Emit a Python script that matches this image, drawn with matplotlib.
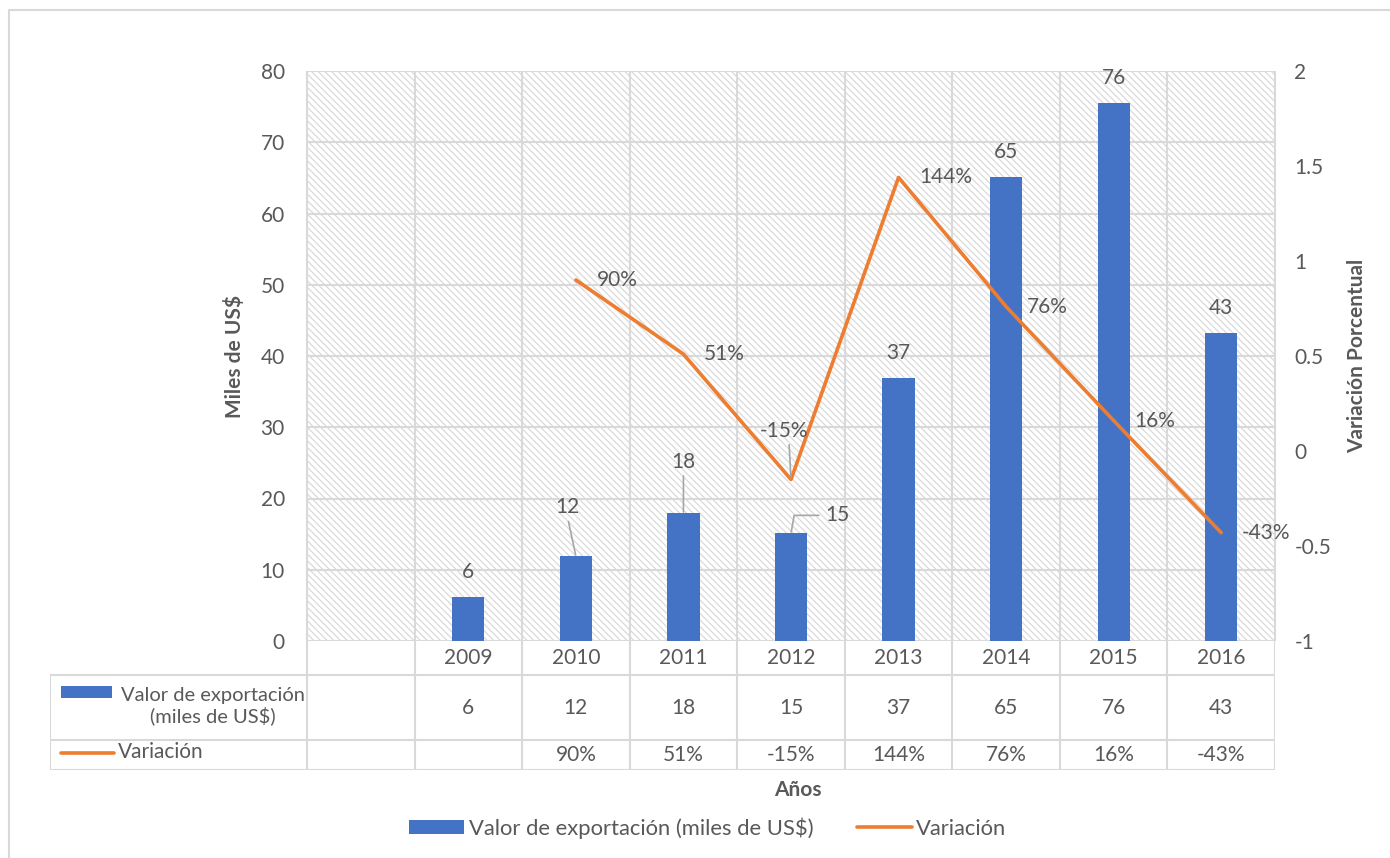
import numpy as np
import matplotlib.pyplot as plt
from matplotlib.patches import Rectangle
from matplotlib.lines import Line2D

plt.rcParams['font.family'] = ['Lato', 'DejaVu Sans']
plt.rcParams['hatch.linewidth'] = 0.9

# data
years = ["", "2009", "2010", "2011", "2012", "2013", "2014", "2015", "2016"]
valor = [np.nan, 6.2, 11.9, 17.9, 15.1, 36.9, 65.1, 75.5, 43.2]
variacion = [np.nan, np.nan, 0.90, 0.51, -0.15, 1.44, 0.76, 0.16, -0.43]
left_ticks = list(range(0, 90, 10))
right_ticks = [-1, -0.5, 0, 0.5, 1, 1.5, 2]

blue = "#4472C4"
orange = "#ED7D31"
grid = "#d9d9d9"
txt = "#595959"
fs = 15

W, H = 1390, 858
def fx(p):
    return p / W
def fy(p):
    return 1 - p / H

fig = plt.figure(figsize=(13.9, 8.58), dpi=100)

# outer frame
fig.add_artist(Line2D([fx(9), fx(9), fx(W)], [fy(H), fy(10), fy(10)],
                      color=grid, lw=1.5, transform=fig.transFigure))

ax = fig.add_axes([fx(307), fy(641), fx(1275) - fx(307), fy(71) - fy(641)])
ax.set_xlim(0, 9)
ax.set_ylim(0, 80)
ax.add_patch(Rectangle((0, 0), 1, 1, transform=ax.transAxes, facecolor="white",
                       edgecolor="#dadada", hatch="\\\\\\\\\\", lw=0, zorder=0))
for s in ax.spines.values():
    s.set_visible(False)
ax.set_axisbelow(True)
ax.set_yticks(left_ticks)
ax.yaxis.grid(True, color=grid, lw=1.5)
ax.set_xticks([])
ax.tick_params(axis="y", length=0, pad=16, labelsize=fs, labelcolor=txt)
ax.vlines(np.arange(len(years) + 1), 0, 80, color=grid, lw=1.5, zorder=1, clip_on=False)

xs = np.arange(len(years)) + 0.5
bars = ax.bar(xs, valor, width=0.3, color=blue, zorder=2,
              label="Valor de exportación (miles de US$)")

# bar labels
special = {"2010": (-6, 28, True), "2011": (0, 30, True), "2012": (25, 13, True)}
for x, v, yr in zip(xs, valor, years):
    if np.isnan(v):
        continue
    dx, dy, lead = special.get(yr, (0, 18, False))
    if yr == "2012":
        ax.annotate(f"{v:.0f}", (x, v), xytext=(dx, dy), textcoords="offset points",
                    ha="left", va="center", fontsize=fs, color=txt,
                    arrowprops=dict(arrowstyle="-", color="#a6a6a6", lw=1.2, shrinkA=3, shrinkB=1,
                                    relpos=(0, 0.5),
                                    connectionstyle="angle,angleA=0,angleB=80,rad=0"))
    elif lead:
        ax.annotate(f"{v:.0f}", (x, v), xytext=(dx, dy), textcoords="offset points",
                    ha="center", va="bottom", fontsize=fs, color=txt,
                    arrowprops=dict(arrowstyle="-", color="#a6a6a6", lw=1.2, shrinkA=1, shrinkB=1,
                                    relpos=(0.5, 0)))
    else:
        ax.annotate(f"{v:.0f}", (x, v), xytext=(dx, dy), textcoords="offset points",
                    ha="center", va="center", fontsize=fs, color=txt)

ax2 = ax.twinx()
ax2.set_ylim(-1, 2)
ax2.set_yticks(right_ticks)
ax2.set_yticklabels([f"{t:g}" for t in right_ticks])
for s in ax2.spines.values():
    s.set_visible(False)
ax2.tick_params(axis="y", length=0, pad=14, labelsize=fs, labelcolor=txt)
line, = ax2.plot(xs, variacion, color=orange, lw=2.6, solid_capstyle="round",
                 solid_joinstyle="round", label="Variación", zorder=3)

for x, v, yr in zip(xs, variacion, years):
    if np.isnan(v):
        continue
    if yr == "2012":
        ax2.annotate(f"{v:.0%}", (x, v), xytext=(-5, 28), textcoords="offset points",
                     ha="center", va="bottom", fontsize=fs, color=txt,
                     arrowprops=dict(arrowstyle="-", color="#a6a6a6", lw=1.2, shrinkA=1, shrinkB=2,
                                     relpos=(0.6, 0)))
    else:
        ax2.annotate(f"{v:.0%}", (x, v), xytext=(15, 0), textcoords="offset points",
                     ha="left", va="center", fontsize=fs, color=txt)

# data table
tab = fig.add_axes([fx(50), fy(770), fx(1275) - fx(50), fy(641) - fy(770)])
left = -(307 - 50) / (968 / 9)
tab.set_xlim(left, 9)
tab.set_ylim(0, 129)
tab.axis("off")
for y in (0, 30, 95):
    tab.plot([left, 9], [y, y], color=grid, lw=1.5)
tab.plot([left, left], [0, 95], color=grid, lw=1.5)
for i in range(len(years) + 1):
    tab.plot([i, i], [0, 129], color=grid, lw=1.5)
for x, yr, v, p in zip(xs, years, valor, variacion):
    tab.text(x, 112, yr, ha="center", va="center", fontsize=fs, color=txt)
    if not np.isnan(v):
        tab.text(x, 62.5, f"{v:.0f}", ha="center", va="center", fontsize=fs, color=txt)
    if not np.isnan(p):
        tab.text(x, 15, f"{p:.0%}", ha="center", va="center", fontsize=fs, color=txt)

# row headers
fig.add_artist(Rectangle((fx(61), fy(698)), fx(112) - fx(61), fy(686) - fy(698),
                         facecolor=blue, transform=fig.transFigure))
fig.text(fx(213), fy(706), "Valor de exportación\n(miles de US$)", ha="center", va="center",
         fontsize=14.5, color=txt, linespacing=1.15, multialignment="center")
fig.add_artist(Line2D([fx(61), fx(114)], [fy(753), fy(753)], color=orange, lw=2.6,
                      solid_capstyle="round", transform=fig.transFigure))
fig.text(fx(118), fy(752), "Variación", ha="left", va="center", fontsize=fs, color=txt)

# axis titles
fig.text(fx(234), fy(356), "Miles de US$", rotation=90, ha="center", va="center",
         fontsize=fs, fontweight="bold", color=txt)
fig.text(fx(1357), fy(356), "Variación Porcentual", rotation=90, ha="center", va="center",
         fontsize=fs, fontweight="bold", color=txt)
fig.text(fx(798), fy(790), "Años", ha="center", va="center",
         fontsize=fs, fontweight="bold", color=txt)

fig.legend(handles=[bars, line], loc="center", bbox_to_anchor=(fx(708), fy(828)),
           ncol=2, frameon=False, fontsize=15.8, handlelength=2.5, handleheight=0.6,
           handletextpad=0.2, columnspacing=2.0, labelcolor=txt)

fig.savefig("out.png", dpi=100)
